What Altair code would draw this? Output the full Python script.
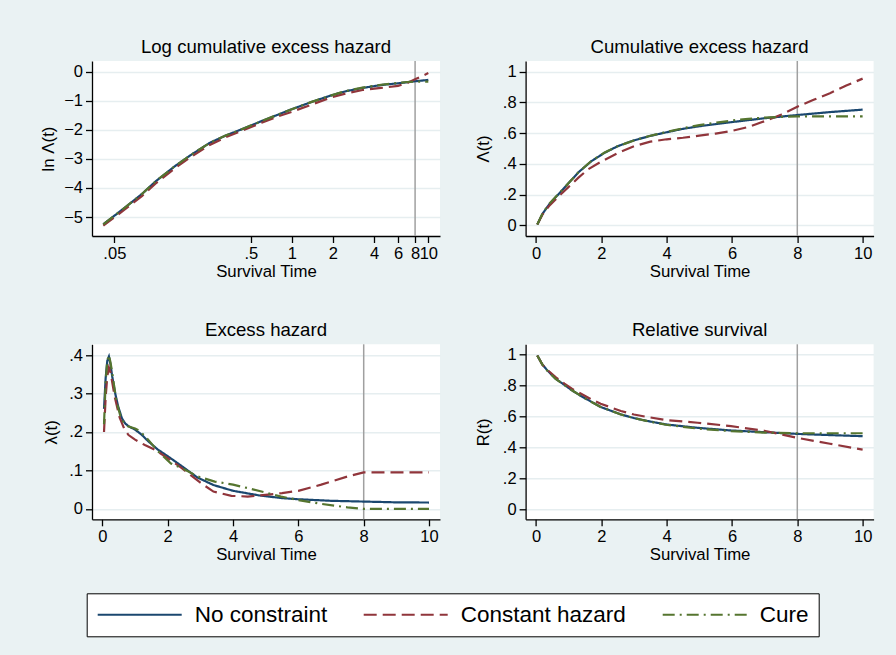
import altair as alt
import pandas as pd

MODELS = ["No constraint", "Constant hazard", "Cure"]
COLORS = ["#1A476F", "#90353B", "#55752F"]
DASHES = [[1, 0], [13, 6], [12, 5, 2, 5]]
FONT = "Liberation Sans"

# ---- Panel 1: log cumulative excess hazard (x on log scale) ----
p1_t_nc = [0.0415, 0.06, 0.08, 0.10, 0.14, 0.18, 0.25, 0.33, 0.43, 0.6, 0.8, 1.0, 1.4, 1.9, 2.5, 3.3, 4.5, 6.0, 8.0, 10.0]
p1_v_nc = [-5.25, -4.67, -4.20, -3.78, -3.24, -2.88, -2.45, -2.19, -1.98, -1.70, -1.47, -1.29, -1.04, -0.83, -0.67, -0.56, -0.46, -0.40, -0.33, -0.283]
p1_t_ch = [0.0415, 0.06, 0.08, 0.10, 0.14, 0.18, 0.25, 0.33, 0.43, 0.6, 0.8, 1.0, 1.4, 1.9, 2.5, 3.3, 4.5, 6.0, 7.0, 8.0, 9.0, 10.0]
p1_v_ch = [-5.30, -4.73, -4.27, -3.85, -3.31, -2.95, -2.52, -2.25, -2.03, -1.76, -1.53, -1.38, -1.13, -0.90, -0.75, -0.63, -0.56, -0.49, -0.39, -0.26, -0.15, -0.05]
p1_t_cu = [0.0415, 0.06, 0.08, 0.10, 0.14, 0.18, 0.25, 0.33, 0.43, 0.6, 0.8, 1.0, 1.4, 1.9, 2.5, 3.3, 4.5, 6.0, 7.0, 8.0, 10.0]
p1_v_cu = [-5.25, -4.67, -4.20, -3.78, -3.24, -2.88, -2.45, -2.19, -1.98, -1.70, -1.47, -1.29, -1.04, -0.83, -0.66, -0.55, -0.45, -0.385, -0.355, -0.343, -0.343]

# ---- Panel 2: cumulative excess hazard ----
p2_t_nc = [0.04, 0.2, 0.4, 0.7, 1.0, 1.3, 1.7, 2.1, 2.5, 3.0, 3.5, 4.0, 4.5, 5.0, 6.0, 7.0, 8.0, 9.0, 10.0]
p2_v_nc = [0.005, 0.075, 0.135, 0.205, 0.275, 0.345, 0.418, 0.472, 0.515, 0.553, 0.582, 0.606, 0.628, 0.645, 0.672, 0.697, 0.718, 0.737, 0.753]
p2_t_ch = [0.04, 0.2, 0.4, 0.7, 1.0, 1.3, 1.6, 2.0, 2.5, 3.0, 3.5, 4.0, 4.5, 5.0, 5.5, 6.0, 6.5, 7.0, 7.5, 8.0, 8.5, 9.0, 9.5, 10.0]
p2_v_ch = [0.005, 0.07, 0.125, 0.19, 0.25, 0.31, 0.365, 0.415, 0.47, 0.515, 0.545, 0.56, 0.57, 0.584, 0.597, 0.615, 0.64, 0.678, 0.72, 0.772, 0.817, 0.86, 0.91, 0.955]
p2_t_cu = [0.04, 0.2, 0.4, 0.7, 1.0, 1.3, 1.7, 2.1, 2.5, 3.0, 3.5, 4.0, 4.5, 5.0, 5.5, 6.0, 6.5, 7.0, 7.5, 8.0, 9.0, 10.0]
p2_v_cu = [0.005, 0.077, 0.138, 0.207, 0.275, 0.345, 0.42, 0.474, 0.515, 0.552, 0.583, 0.608, 0.632, 0.652, 0.668, 0.682, 0.693, 0.701, 0.706, 0.709, 0.709, 0.709]

# ---- Panel 3: excess hazard ----
p3_t_nc = [0.05, 0.1, 0.15, 0.2, 0.25, 0.3, 0.38, 0.48, 0.6, 0.7, 0.8, 1.0, 1.2, 1.4, 1.7, 2.0, 2.4, 2.9, 3.4, 4.0, 4.8, 5.5, 6.0, 7.0, 8.0, 9.0, 10.0]
p3_v_nc = [0.26, 0.34, 0.385, 0.396, 0.375, 0.345, 0.305, 0.267, 0.235, 0.222, 0.215, 0.206, 0.193, 0.176, 0.154, 0.137, 0.113, 0.082, 0.062, 0.047, 0.035, 0.028, 0.025, 0.021, 0.019, 0.017, 0.0165]
p3_t_ch = [0.05, 0.1, 0.15, 0.2, 0.25, 0.3, 0.38, 0.53, 0.68, 0.8, 1.0, 1.3, 1.6, 2.0, 2.4, 3.0, 3.4, 3.95, 4.45, 5.07, 5.5, 6.0, 6.7, 7.5, 8.0, 10.0]
p3_v_ch = [0.2, 0.29, 0.345, 0.367, 0.355, 0.33, 0.29, 0.237, 0.206, 0.192, 0.18, 0.166, 0.154, 0.132, 0.108, 0.068, 0.045, 0.034, 0.032, 0.037, 0.041, 0.047, 0.063, 0.084, 0.095, 0.095]
p3_t_cu = [0.05, 0.1, 0.15, 0.2, 0.25, 0.3, 0.43, 0.58, 0.78, 1.0, 1.15, 1.4, 1.7, 2.1, 2.5, 2.93, 3.44, 4.0, 4.45, 5.07, 5.47, 6.0, 6.7, 7.5, 8.0, 10.0]
p3_v_cu = [0.22, 0.33, 0.385, 0.40, 0.38, 0.354, 0.28, 0.232, 0.215, 0.209, 0.202, 0.18, 0.15, 0.118, 0.103, 0.084, 0.071, 0.063, 0.054, 0.041, 0.032, 0.023, 0.013, 0.004, 0.0, 0.0]

# ---- Panel 4: relative survival ----
p4_t_nc = [0.04, 0.2, 0.36, 0.6, 0.87, 1.1, 1.38, 1.7, 1.98, 2.6, 3.0, 3.42, 3.98, 4.95, 5.97, 6.99, 7.98, 9.0, 10.0]
p4_v_nc = [0.995, 0.935, 0.896, 0.845, 0.805, 0.77, 0.733, 0.695, 0.662, 0.614, 0.59, 0.571, 0.549, 0.527, 0.51, 0.499, 0.488, 0.48, 0.473]
p4_t_ch = [0.04, 0.2, 0.36, 0.6, 0.87, 1.1, 1.38, 1.7, 1.98, 2.6, 3.0, 3.42, 3.98, 4.95, 5.97, 6.99, 7.98, 9.0, 10.0]
p4_v_ch = [0.995, 0.935, 0.9, 0.855, 0.813, 0.78, 0.748, 0.71, 0.683, 0.636, 0.613, 0.597, 0.577, 0.56, 0.538, 0.508, 0.463, 0.424, 0.386]
p4_t_cu = [0.04, 0.2, 0.36, 0.6, 0.87, 1.1, 1.38, 1.7, 1.98, 2.6, 3.0, 3.42, 3.98, 4.95, 5.97, 6.99, 7.98, 9.0, 10.0]
p4_v_cu = [0.995, 0.935, 0.894, 0.843, 0.804, 0.77, 0.733, 0.694, 0.662, 0.613, 0.59, 0.57, 0.547, 0.522, 0.506, 0.496, 0.492, 0.492, 0.492]

REF_T = [8]


def frame(series):
    rows = []
    for name, ts, vs in series:
        rows += [{"t": t, "v": v, "model": name} for t, v in zip(ts, vs)]
    return pd.DataFrame(rows)


LEGEND = alt.Legend(
    orient="none", legendX=-5.3, legendY=532.3, direction="horizontal", columns=3,
    title=None, symbolType="stroke", symbolSize=7056, symbolStrokeWidth=2, clipHeight=22.5,
    labelFont=FONT, labelFontSize=22.5, labelColor="black", labelLimit=0,
    labelOffset=12, columnPadding=35, padding=10,
    strokeColor="black", fillColor="white",
)


def panel(df, title, ytitle, xscale, yscale, xvals, xexpr, yvals, yexpr, ytpad):
    xaxis = alt.Axis(values=xvals, labelExpr=xexpr, title="Survival Time", grid=False,
                     labelFlush=False, labelOverlap=False, labelPadding=2.5, titlePadding=2)
    yaxis = alt.Axis(values=yvals, labelExpr=yexpr, title=ytitle, grid=True,
                     labelPadding=3, titlePadding=ytpad, labelOverlap=False)
    rule = alt.Chart(pd.DataFrame({"t": REF_T})).mark_rule(color="#A0A0A0", strokeWidth=1.5).encode(
        x=alt.X("t:Q", scale=xscale, axis=xaxis)
    )
    lines = alt.Chart(df).mark_line(strokeWidth=2.2, clip=True).encode(
        x=alt.X("t:Q", scale=xscale, axis=xaxis),
        y=alt.Y("v:Q", scale=yscale, axis=yaxis),
        color=alt.Color("model:N", scale=alt.Scale(domain=MODELS, range=COLORS), legend=LEGEND, title=None),
        strokeDash=alt.StrokeDash("model:N", scale=alt.Scale(domain=MODELS, range=DASHES), legend=LEGEND, title=None),
    )
    return alt.layer(rule, lines).properties(
        width=348, height=175,
        title=alt.TitleParams(title, font=FONT, fontSize=18.6, fontWeight="normal", color="black",
                              offset=-11, baseline="alphabetic", anchor="middle", frame="group"),
    )


lin_x = alt.Scale(domain=[-0.318, 10.336], nice=False, zero=False)
lin_x_expr = "format(datum.value, '')"
frac_expr = "datum.value == 0 ? '0' : datum.value == 1 ? '1' : replace(format(datum.value, '.1f'), '0.', '.')"

df1 = frame([(MODELS[0], p1_t_nc, p1_v_nc), (MODELS[1], p1_t_ch, p1_v_ch), (MODELS[2], p1_t_cu, p1_v_cu)])
df2 = frame([(MODELS[0], p2_t_nc, p2_v_nc), (MODELS[1], p2_t_ch, p2_v_ch), (MODELS[2], p2_t_cu, p2_v_cu)])
df3 = frame([(MODELS[0], p3_t_nc, p3_v_nc), (MODELS[1], p3_t_ch, p3_v_ch), (MODELS[2], p3_t_cu, p3_v_cu)])
df4 = frame([(MODELS[0], p4_t_nc, p4_v_nc), (MODELS[1], p4_t_ch, p4_v_ch), (MODELS[2], p4_t_cu, p4_v_cu)])

c1 = panel(df1, "Log cumulative excess hazard", "ln Λ(t)",
           alt.Scale(type="log", domain=[0.0343, 12.18], nice=False),
           alt.Scale(domain=[-5.653, 0.367], nice=False, zero=False),
           [0.05, 0.5, 1, 2, 4, 6, 8, 10],
           "datum.value < 1 ? replace(format(datum.value, ''), '0.', '.') : format(datum.value, '')",
           [0, -1, -2, -3, -4, -5], "format(datum.value, '')", 6.5)
c2 = panel(df2, "Cumulative excess hazard", "Λ(t)", lin_x,
           alt.Scale(domain=[-0.0697, 1.0697], nice=False, zero=False),
           [0, 2, 4, 6, 8, 10], lin_x_expr, [0, 0.2, 0.4, 0.6, 0.8, 1], frac_expr, 10)
c3 = panel(df3, "Excess hazard", "λ(t)", lin_x,
           alt.Scale(domain=[-0.0271, 0.4279], nice=False, zero=False),
           [0, 2, 4, 6, 8, 10], lin_x_expr, [0, 0.1, 0.2, 0.3, 0.4], frac_expr, 8.3)
c4 = panel(df4, "Relative survival", "R(t)", lin_x,
           alt.Scale(domain=[-0.065, 1.0677], nice=False, zero=False),
           [0, 2, 4, 6, 8, 10], lin_x_expr, [0, 0.2, 0.4, 0.6, 0.8, 1], frac_expr, 10)

chart = alt.concat(c1, c2, c3, c4, columns=2, spacing={"row": 108.3, "column": 85.6}, bounds="flush").properties(
    background="#EAF2F3",
    padding={"left": 40, "top": 37, "right": 22, "bottom": 20},
).configure_view(fill="white", stroke=None).configure_axis(
    domainColor="black", domainWidth=1.3, tickColor="black", tickWidth=1.3, tickSize=6.5,
    labelFont=FONT, labelFontSize=16.5, labelColor="black",
    titleFont=FONT, titleFontSize=16.8, titleColor="black", titleFontWeight="normal",
    gridColor="#E6EEF0", gridWidth=1.6,
).configure_axisY(labelAngle=0)

chart.save("out.html", embed_options={"renderer": "svg", "actions": False})
